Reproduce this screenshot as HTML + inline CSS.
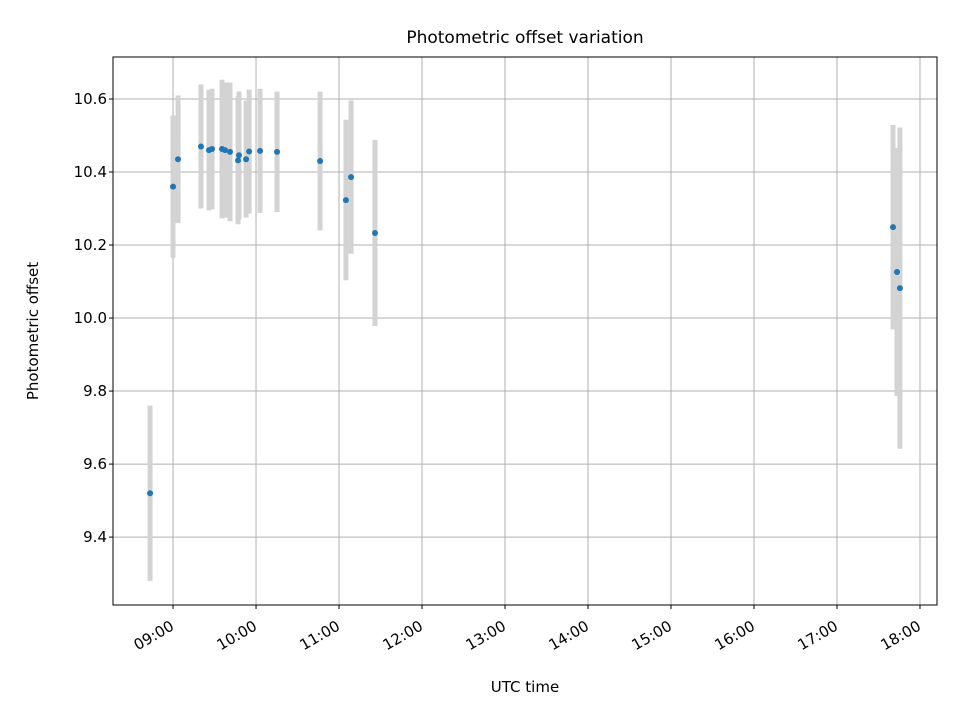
<!DOCTYPE html>
<html><head><meta charset="utf-8"><style>
body{margin:0;background:#fff;font-family:"Liberation Sans","DejaVu Sans",sans-serif}
</style></head><body>
<svg id="chart" width="960" height="720" xmlns="http://www.w3.org/2000/svg" style="font-family:'DejaVu Sans','Liberation Sans',sans-serif">
<rect width="960" height="720" fill="#fff"/>
<g id="grid"></g>
<g id="errs"></g>
<g id="pts"></g>
<rect x="113" y="57" width="824" height="548" fill="none" stroke="#000" stroke-width="1"/>
<g id="axes"></g>
<text x="525" y="43" text-anchor="middle" font-size="17">Photometric offset variation</text>
<text x="525" y="692" text-anchor="middle" font-size="15">UTC time</text>
<text transform="translate(38,331) rotate(-90)" text-anchor="middle" font-size="15">Photometric offset</text>
</svg>
<script>
// times in minutes after midnight UTC
const times = [523.4,540,543.6,560.2,566,568.2,575.4,577.6,581.2,587,587.7,592.8,595,602.9,615.2,646.3,665,668.7,686,1060.5,1063.4,1065.5];
const offsets = [9.52,10.36,10.435,10.47,10.46,10.463,10.463,10.46,10.455,10.432,10.446,10.435,10.456,10.458,10.455,10.43,10.323,10.386,10.233,10.249,10.126,10.082];
const errors = [0.24,0.195,0.175,0.17,0.165,0.165,0.19,0.185,0.19,0.175,0.175,0.16,0.17,0.17,0.165,0.19,0.22,0.21,0.255,0.28,0.34,0.44];
const yTicks = [9.4,9.6,9.8,10.0,10.2,10.4,10.6];
const xTicks = [540,600,660,720,780,840,900,960,1020,1080];
const xTickLabels = ["09:00","10:00","11:00","12:00","13:00","14:00","15:00","16:00","17:00","18:00"];

const L=113,R=937,T=57,B=605;
const xMin=496.6,xMax=1092.3,yMin=9.214,yMax=10.715;
const xs=v=>L+(v-xMin)/(xMax-xMin)*(R-L);
const ys=v=>B-(v-yMin)/(yMax-yMin)*(B-T);
const NS="http://www.w3.org/2000/svg";
function mk(tag,attrs,parent,txt){const e=document.createElementNS(NS,tag);for(const k in attrs)e.setAttribute(k,attrs[k]);if(txt!==undefined)e.textContent=txt;document.getElementById(parent).appendChild(e);return e;}
yTicks.forEach((v,i)=>{
  const y=ys(v);
  const g=mk('line',{x1:L,x2:R,y1:y,y2:y,stroke:'#b0b0b0','stroke-width':1},'grid');
  
  
  const t=mk('line',{x1:L-4,x2:L,y1:y,y2:y,stroke:'#000'},'axes');
  
  
  const l=mk('text',{x:L-6,y:y+5,'text-anchor':'end','font-size':15},'axes',v.toFixed(1));
  
  
});
xTicks.forEach((v,i)=>{
  const x=xs(v);
  const g=mk('line',{x1:x,x2:x,y1:T,y2:B,stroke:'#b0b0b0','stroke-width':1},'grid');
  
  
  const t=mk('line',{x1:x,x2:x,y1:B,y2:B+4,stroke:'#000'},'axes');
  
  
  const l=mk('text',{transform:`translate(${x+2},${B+24}) rotate(-30)`,'text-anchor':'end','font-size':15},'axes',xTickLabels[i]);
  
  
});
times.forEach((t,i)=>{
  const x=xs(t);
  const e=mk('line',{x1:x,x2:x,y1:ys(offsets[i]+errors[i]),y2:ys(offsets[i]-errors[i]),stroke:'#d3d3d3','stroke-width':5},'errs');
  
  
});
times.forEach((t,i)=>{
  const p=mk('circle',{cx:xs(t),cy:ys(offsets[i]),r:3,fill:'#1f77b4'},'pts');
  
  
});
</script>
</body></html>
